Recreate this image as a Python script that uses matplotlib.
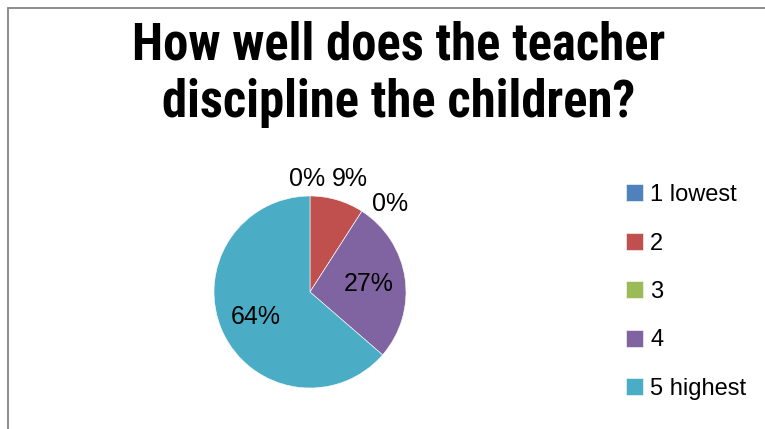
import numpy as np
import matplotlib
matplotlib.use("Agg")
import matplotlib.pyplot as plt
from matplotlib.patches import Rectangle

# survey answers (number of responses per rating)
categories = ["1 lowest", "2", "3", "4", "5 highest"]
counts = [0, 1, 0, 3, 7]
colors = ["#4F81BD", "#C0504D", "#9BBB59", "#8064A2", "#4BACC6"]

title_lines = ["How well does the teacher", "discipline the children?"]

plt.rcParams["font.family"] = ["Liberation Sans", "DejaVu Sans"]

W, H = 765, 429
fig = plt.figure(figsize=(W / 100, H / 100), dpi=100)
fig.patch.set_facecolor("white")

# grey frame, only top and left edges fall inside the picture
fig.add_artist(Rectangle((7.5 / W, -0.1), 1.2, (H - 8) / H + 0.1,
                         transform=fig.transFigure, fill=False,
                         edgecolor="#858585", linewidth=1.3, clip_on=False))

# title, two lines
fig.text(399 / W, 1 - 59 / H, title_lines[0], ha="center", va="baseline",
         fontsize=36.5, fontweight="bold", family="Roboto Condensed")
fig.text(399 / W, 1 - 117 / H, title_lines[1], ha="center", va="baseline",
         fontsize=36.5, fontweight="bold", family="Roboto Condensed")

# pie: centre (310, 292), radius 96 px
r = 96
ax = fig.add_axes([(310 - r) / W, (H - 292 - r) / H, 2 * r / W, 2 * r / H])
wedges, _ = ax.pie(counts, colors=colors, startangle=90, counterclock=False,
                   radius=1, wedgeprops=dict(edgecolor="white", linewidth=0.4))
ax.set_xlim(-1, 1)
ax.set_ylim(-1, 1)
ax.set_aspect("equal")
ax.axis("off")

total = sum(counts)
outside_nudge = [(-3, -2), (7, 2), (18, -9)]  # pixels, to keep small labels apart
k = 0
for w, c in zip(wedges, counts):
    pct = 100 * c / total
    mid = np.deg2rad((w.theta1 + w.theta2) / 2)
    if pct >= 20:
        rr = 0.62
        off = (0, 0)
    else:
        rr = 1.2
        off = outside_nudge[k]
        k += 1
    ax.annotate("{:.0f}%".format(pct), (rr * np.cos(mid), rr * np.sin(mid)),
                xytext=off, textcoords="offset pixels",
                ha="center", va="center", fontsize=18, annotation_clip=False)

fig.legend(wedges, categories, loc="center left",
           bbox_to_anchor=(626 / W, 1 - 292 / H), frameon=False,
           fontsize=17, handlelength=0.72, handleheight=0.72,
           handletextpad=0.3, labelspacing=1.12, borderpad=0, borderaxespad=0)

fig.savefig("out.png", dpi=100, facecolor="white")
